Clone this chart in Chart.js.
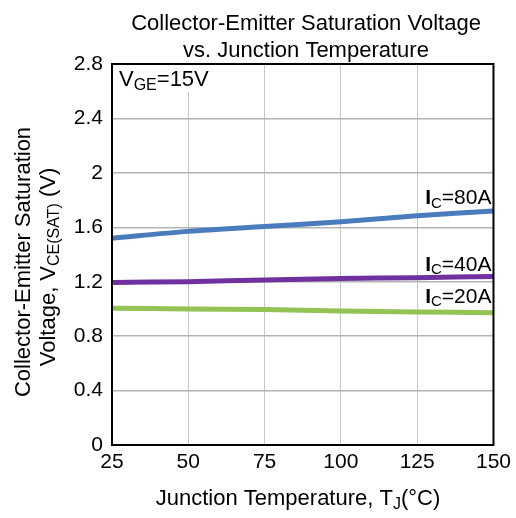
<!DOCTYPE html>
<html>
<head>
<meta charset="utf-8">
<script src="https://cdn.jsdelivr.net/npm/chart.js@4/dist/chart.umd.min.js"></script>
<style>
  html, body { margin: 0; padding: 0; background: #fff; }
  #wrap { width: 516px; height: 518px; }
</style>
</head>
<body>
<div id="wrap"><canvas id="c" width="516" height="518"></canvas></div>
<script>
// temperatures (°C) where the curves were read
const temps = [25, 50, 75, 100, 125, 150];
// V_CE(sat) for each collector current
const vce80 = [1.52, 1.57, 1.605, 1.64, 1.685, 1.72];
const vce40 = [1.195, 1.20, 1.213, 1.223, 1.23, 1.238];
const vce20 = [1.005, 1.0, 0.995, 0.985, 0.978, 0.972];
const yTicks = [0, 0.4, 0.8, 1.2, 1.6, 2, 2.4, 2.8];
// where the curve labels sit (value at right edge)
const curveLabels = [
  { sub: 'C', rest: '=80A', y: 1.83 },
  { sub: 'C', rest: '=40A', y: 1.34 },
  { sub: 'C', rest: '=20A', y: 1.105 }
];

const FONT = '"Liberation Sans", Arial, sans-serif';

function pts(vals) {
  return temps.map((t, i) => ({ x: t, y: vals[i] }));
}

// draws text pieces [{t, sub, bold}] starting at x, baseline y
function drawRich(ctx, parts, x, y, size) {
  parts.forEach(p => {
    const fs = p.sub ? Math.round(size * 0.72) : size;
    ctx.font = (p.bold ? 'bold ' : '') + fs + 'px ' + FONT;
    ctx.fillText(p.t, x, p.sub ? y + size * 0.18 : y);
    x += ctx.measureText(p.t).width;
  });
  return x;
}
function richWidth(ctx, parts, size) {
  let w = 0;
  parts.forEach(p => {
    const fs = p.sub ? Math.round(size * 0.72) : size;
    ctx.font = (p.bold ? 'bold ' : '') + fs + 'px ' + FONT;
    w += ctx.measureText(p.t).width;
  });
  return w;
}

const textPlugin = {
  id: 'texts',
  afterDatasetsDraw(chart) {
    const ctx = chart.ctx;
    const ca = chart.chartArea;
    const xs = chart.scales.x, ys = chart.scales.y;
    ctx.save();
    ctx.fillStyle = '#000';
    ctx.textBaseline = 'alphabetic';
    ctx.textAlign = 'left';

    // V_GE box
    ctx.fillStyle = '#fff';
    ctx.fillRect(ca.left + 1, ca.top + 1, 95, 27);
    ctx.fillStyle = '#000';
    drawRich(ctx, [{ t: 'V' }, { t: 'GE', sub: true }, { t: '=15V' }], ca.left + 7, ca.top + 22, 22);

    // curve labels
    curveLabels.forEach(l => {
      const parts = [{ t: 'I', bold: true }, { t: l.sub, sub: true }, { t: l.rest }];
      const w = richWidth(ctx, parts, 21);
      const xr = xs.getPixelForValue(150) - 2;
      drawRich(ctx, parts, xr - w, ys.getPixelForValue(l.y) + 8, 21);
    });

    // chart title
    ctx.font = '22px ' + FONT;
    ctx.textAlign = 'center';
    ctx.fillText('Collector-Emitter Saturation Voltage', 306, 30);
    ctx.fillText('vs. Junction Temperature', 306, 57);

    // x axis title
    ctx.textAlign = 'left';
    const xt = [{ t: 'Junction Temperature, T' }, { t: 'J', sub: true }, { t: '(°C)' }];
    const xw = richWidth(ctx, xt, 22);
    drawRich(ctx, xt, 298 - xw / 2, 505, 22);

    // y axis title (rotated)
    ctx.translate(0, 262);
    ctx.rotate(-Math.PI / 2);
    ctx.font = '22px ' + FONT;
    ctx.textAlign = 'center';
    ctx.fillText('Collector-Emitter Saturation', 0, 30);
    ctx.textAlign = 'left';
    const yt = [{ t: 'Voltage, V' }, { t: 'CE(SAT)', sub: true }, { t: ' (V)' }];
    const yw = richWidth(ctx, yt, 22);
    drawRich(ctx, yt, -yw / 2 - 5, 55, 22);
    ctx.restore();
  }
};

new Chart(document.getElementById('c').getContext('2d'), {
  type: 'line',
  data: {
    datasets: [
      { label: 'IC=80A', data: pts(vce80), borderColor: '#4a7cbd', borderWidth: 5, pointRadius: 0, tension: 0.3 },
      { label: 'IC=40A', data: pts(vce40), borderColor: '#7030a0', borderWidth: 5, pointRadius: 0, tension: 0.3 },
      { label: 'IC=20A', data: pts(vce20), borderColor: '#92c353', borderWidth: 5, pointRadius: 0, tension: 0.3 }
    ]
  },
  options: {
    responsive: false,
    animation: false,
    layout: { padding: { left: 0, top: 64, right: 22, bottom: 0 } },
    plugins: { legend: { display: false }, tooltip: { enabled: false }, title: { display: false } },
    scales: {
      x: {
        type: 'linear', min: 25, max: 150,
        afterFit(s) { s.height = 73; },
        afterBuildTicks(s) { s.ticks = temps.map(v => ({ value: v })); },
        ticks: { color: '#000', font: { size: 21, family: FONT }, padding: 5, maxRotation: 0 },
        grid: { color: '#c8c8c8', lineWidth: 1, drawTicks: false },
        border: { color: '#000', width: 2 }
      },
      y: {
        min: 0, max: 2.8,
        afterFit(s) { s.width = 112; },
        ticks: {
          stepSize: 0.2,
          color: '#000', font: { size: 21, family: FONT }, padding: 9,
          callback(v) {
            const hit = yTicks.find(t => Math.abs(t - v) < 1e-6);
            return hit === undefined ? '' : String(hit);
          }
        },
        grid: {
          color(c) {
            const v = c.tick ? c.tick.value : 0;
            return yTicks.some(t => Math.abs(t - v) < 1e-6) ? '#b4b4b4' : '#d2d2d2';
          },
          lineWidth: 1.5, drawTicks: false
        },
        border: { color: '#000', width: 2 }
      }
    }
  },
  plugins: [textPlugin, {
    id: 'frame',
    afterDraw(chart) {
      const ca = chart.chartArea, ctx = chart.ctx;
      ctx.save();
      ctx.strokeStyle = '#000';
      ctx.lineWidth = 2;
      ctx.strokeRect(ca.left, ca.top, ca.right - ca.left, ca.bottom - ca.top);
      ctx.restore();
    }
  }]
});
</script>
</body>
</html>
